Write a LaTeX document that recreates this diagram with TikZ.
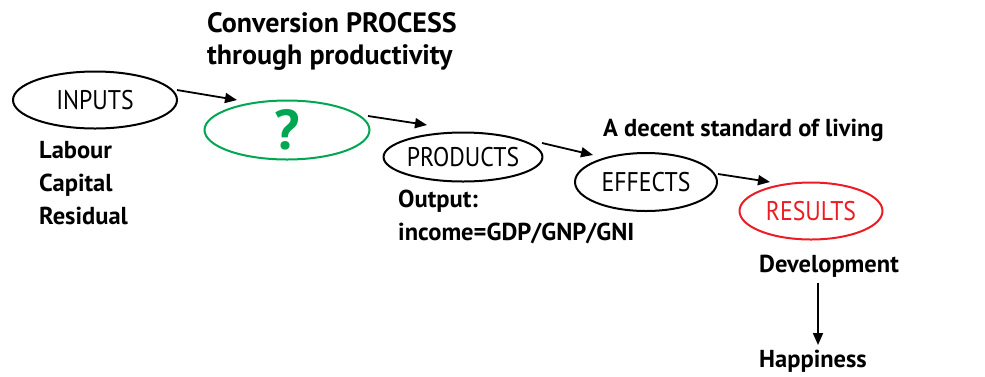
\documentclass[tikz,border=0pt]{standalone}
\usepackage{fontspec}
\setmainfont{PT Sans}
\newfontfamily\narrowfont[FakeStretch=0.88]{PT Sans}
\usepackage{xcolor}
\usepackage{tikz}
\usetikzlibrary{shapes,arrows.meta,positioning,calc}
\definecolor{procgreen}{RGB}{0,166,81}
\definecolor{resred}{RGB}{237,28,36}

\begin{document}
\begin{tikzpicture}[
    x=1pt, y=-1pt,
    oval/.style={ellipse, draw, line width=2pt, inner sep=0pt, font=\narrowfont\fontsize{27}{27}\selectfont},
    note/.style={anchor=north west, inner sep=0pt, align=left, font=\bfseries\fontsize{24.5}{33}\selectfont},
    arrow/.style={-{Triangle[length=12pt,width=10pt]}, line width=1.8pt},
]
    \useasboundingbox (0,0) rectangle (985,376);

    % Stages
    \node[oval, minimum width=164pt, minimum height=57pt] (inputs) at (95,100) {INPUTS};
    \node[oval, draw=procgreen, text=procgreen, minimum width=165pt, minimum height=59pt,
          font=\bfseries\fontsize{56}{56}\selectfont] (process) at (287,130) {?};
    \node[oval, minimum width=142pt, minimum height=49pt] (products) at (463,157) {PRODUCTS};
    \node[oval, minimum width=142pt, minimum height=58pt] (effects) at (646,182) {EFFECTS};
    \node[oval, draw=resred, text=resred, minimum width=143pt, minimum height=57pt] (results) at (811,211) {RESULTS};

    % Notes
    \node[note, font=\bfseries\fontsize{28}{32}\selectfont] (conv) at (207,12) {Conversion PROCESS\\through productivity};
    \node[note] (factors) at (39,141) {Labour\\Capital\\Residual};
    \node[note] (output) at (398,190) {Output:\\income=GDP/GNP/GNI};
    \node[note] (living) at (603,119) {A decent standard of living};
    \node[note] (dev) at (759,255) {Development};
    \node[note] (happy) at (759,350) {Happiness};

    % Arrows
    \draw[arrow] ($(inputs)+(82,-10)$) -- ($(process)+(-50,-30)$);
    \draw[arrow] ($(process)+(81,-14)$) -- ($(products)+(-36,-32)$);
    \draw[arrow] ($(products)+(79,-14)$) -- ($(effects)+(-53,-27)$);
    \draw[arrow] ($(effects)+(72,-8)$) -- ($(results)+(-41,-29)$);
    \draw[arrow] ($(dev.south west)+(59,5)$) -- ($(happy.north west)+(59,-5)$);
\end{tikzpicture}
\end{document}
